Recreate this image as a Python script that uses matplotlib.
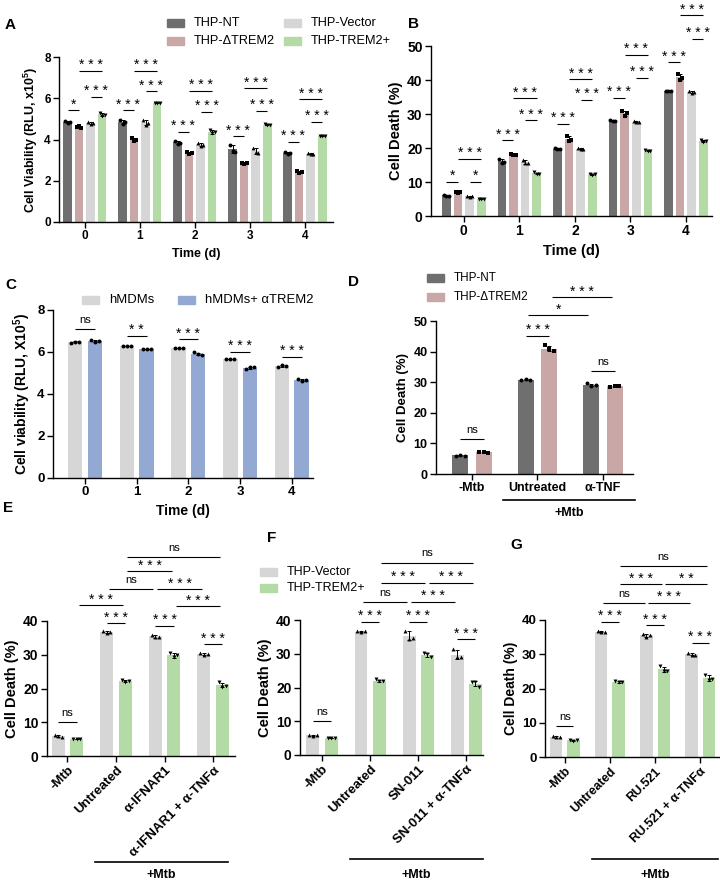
import matplotlib
matplotlib.use("Agg")
import matplotlib.pyplot as plt
from matplotlib.patches import Rectangle
from matplotlib.lines import Line2D
import numpy as np

################################################################################
# Fonts
plt.rcParams['font.family'] = ['Liberation Sans', 'DejaVu Sans']
plt.rcParams['mathtext.fontset'] = 'custom'
plt.rcParams['mathtext.rm'] = 'Liberation Sans'
plt.rcParams['mathtext.bf'] = 'Liberation Sans:bold'
plt.rcParams['axes.linewidth'] = 1.0
################################################################################

################################################################################
# Data (replicates per bar: [group][series][rep])
DAYS = ['0', '1', '2', '3', '4']

A_REPS = [[[4.90, 4.80, 4.85], [4.60, 4.65, 4.58], [4.85, 4.75, 4.80], [5.30, 5.15, 5.20]],
          [[4.95, 4.75, 4.85], [4.05, 3.95, 4.00], [4.95, 4.70, 4.80], [5.78, 5.78, 5.78]],
          [[3.95, 3.80, 3.85], [3.40, 3.30, 3.35], [3.85, 3.70, 3.75], [4.45, 4.30, 4.35]],
          [[3.75, 3.45, 3.40], [2.88, 2.82, 2.85], [3.60, 3.40, 3.35], [4.75, 4.70, 4.72]],
          [[3.38, 3.32, 3.35], [2.45, 2.40, 2.42], [3.35, 3.28, 3.30], [4.15, 4.15, 4.15]]]

B_REPS = [[[6.2, 5.9, 6.0], [7.2, 6.9, 7.0], [6.0, 5.7, 5.8], [5.1, 4.9, 5.0]],
          [[16.8, 15.7, 15.8], [18.3, 17.8, 18.0], [16.6, 15.5, 15.6], [12.8, 12.3, 12.5]],
          [[20.0, 19.7, 19.8], [23.6, 22.2, 22.5], [19.9, 19.6, 19.7], [12.5, 12.2, 12.3]],
          [[28.1, 27.9, 28.0], [31.0, 29.5, 30.2], [27.9, 27.6, 27.7], [19.3, 19.1, 19.2]],
          [[36.9, 36.7, 36.8], [41.8, 40.0, 40.6], [36.7, 36.3, 36.5], [22.3, 21.8, 22.0]]]

C_REPS = [[[6.45, 6.50, 6.50], [6.55, 6.50, 6.52]],
          [[6.28, 6.28, 6.28], [6.12, 6.12, 6.12]],
          [[6.20, 6.20, 6.20], [5.98, 5.90, 5.88]],
          [[5.68, 5.68, 5.68], [5.20, 5.28, 5.28]],
          [[5.30, 5.38, 5.33], [4.70, 4.62, 4.65]]]

D_LABELS = ['-Mtb', 'Untreated', 'α-TNF']
D_REPS = [[[6.0, 6.3, 5.9], [7.1, 7.2, 7.0]],
          [[30.8, 30.9, 30.7], [42.0, 40.8, 40.2]],
          [[29.6, 28.8, 29.0], [28.4, 28.8, 28.7]]]

E_LABELS = ['-Mtb', 'Untreated', 'α-IFNAR1', 'α-IFNAR1 + α-TNFα']
E_REPS = [[[6.2, 5.8, 5.7], [5.1, 5.0, 4.9]],
          [[36.9, 36.5, 36.8], [22.5, 22.0, 22.1]],
          [[36.0, 35.2, 35.3], [30.5, 29.2, 29.8]],
          [[30.5, 30.0, 30.1], [21.8, 20.5, 20.8]]]

F_LABELS = ['-Mtb', 'Untreated', 'SN-011', 'SN-011 + α-TNFα']
F_REPS = [[[5.9, 5.7, 5.8], [5.0, 5.1, 4.9]],
          [[36.6, 36.5, 36.6], [22.4, 21.9, 21.8]],
          [[36.8, 34.5, 34.6], [30.3, 29.8, 29.1]],
          [[31.3, 29.0, 29.0], [21.6, 21.5, 20.2]]]

G_LABELS = ['-Mtb', 'Untreated', 'RU.521', 'RU.521 + α-TNFα']
G_REPS = [[[6.0, 5.7, 5.8], [5.0, 4.8, 4.9]],
          [[36.8, 36.5, 36.6], [22.3, 21.8, 21.9]],
          [[36.0, 35.0, 35.5], [26.5, 25.0, 25.2]],
          [[30.5, 29.8, 29.9], [24.0, 22.5, 22.7]]]

# Significance: (group1, series1, group2, series2, y, text)
A_SIG = [(0, 0, 0, 1, 5.43, '*'), (0, 2, 0, 3, 6.07, '***'), (0, 1, 0, 3, 7.34, '***'),
         (1, 0, 1, 1, 5.43, '***'), (1, 2, 1, 3, 6.33, '***'), (1, 1, 1, 3, 7.34, '***'),
         (2, 0, 2, 1, 4.38, '***'), (2, 2, 2, 3, 5.35, '***'), (2, 1, 2, 3, 6.37, '***'),
         (3, 0, 3, 1, 4.17, '***'), (3, 2, 3, 3, 5.39, '***'), (3, 1, 3, 3, 6.49, '***'),
         (4, 0, 4, 1, 3.90, '***'), (4, 2, 4, 3, 4.87, '***'), (4, 1, 4, 3, 5.95, '***')]

B_SIG = [(0, 0, 0, 1, 10.1, '*'), (0, 2, 0, 3, 10.1, '*'), (0, 1, 0, 3, 16.9, '***'),
         (1, 0, 1, 1, 22.3, '***'), (1, 2, 1, 3, 28.2, '***'), (1, 1, 1, 3, 34.7, '***'),
         (2, 0, 2, 1, 27.2, '***'), (2, 2, 2, 3, 34.2, '***'), (2, 1, 2, 3, 40.2, '***'),
         (3, 0, 3, 1, 34.8, '***'), (3, 2, 3, 3, 40.7, '***'), (3, 1, 3, 3, 47.4, '***'),
         (4, 0, 4, 1, 45.2, '***'), (4, 2, 4, 3, 52.1, '***'), (4, 1, 4, 3, 59.1, '***')]

C_SIG = [(0, 0, 0, 1, 7.10, 'ns'), (1, 0, 1, 1, 6.78, '**'), (2, 0, 2, 1, 6.62, '***'),
         (3, 0, 3, 1, 6.01, '***'), (4, 0, 4, 1, 5.78, '***')]

D_SIG = [(0, 0, 0, 1, 11.3, 'ns'), (1, 0, 1, 1, 45.2, '***'), (1, 0, 2, 0, 52.0, '*'),
         (1, 1, 2, 1, 57.7, '***'), (2, 0, 2, 1, 33.7, 'ns')]

E_SIG = [(0, 0, 0, 1, 10.0, 'ns'), (1, 0, 1, 1, 39.4, '***'), (2, 0, 2, 1, 38.6, '***'),
         (3, 0, 3, 1, 33.1, '***'), (0, 1, 1, 1, 44.7, '***'), (2, 1, 3, 1, 44.4, '***'),
         (1, 0, 2, 0, 49.4, 'ns'), (2, 0, 3, 0, 49.4, '***'), (1, 1, 2, 1, 54.8, '***'),
         (1, 1, 3, 1, 59.0, 'ns')]

F_SIG = [(0, 0, 0, 1, 10.1, 'ns'), (1, 0, 1, 1, 39.5, '***'), (2, 0, 2, 1, 39.5, '***'),
         (3, 0, 3, 1, 34.4, '***'), (1, 0, 2, 0, 45.4, 'ns'), (2, 0, 3, 0, 45.4, '***'),
         (1, 1, 2, 1, 51.0, '***'), (2, 1, 3, 1, 51.0, '***'), (1, 1, 3, 1, 57.0, 'ns')]

G_SIG = [(0, 0, 0, 1, 9.0, 'ns'), (1, 0, 1, 1, 39.5, '***'), (2, 0, 2, 1, 38.5, '***'),
         (3, 0, 3, 1, 33.4, '***'), (1, 0, 2, 0, 45.0, 'ns'), (2, 0, 3, 0, 45.0, '***'),
         (1, 1, 2, 1, 50.5, '***'), (2, 1, 3, 1, 50.5, '**'), (1, 1, 3, 1, 55.8, 'ns')]
################################################################################

################################################################################
# Colors
C_NT = '#6f6f6f'
C_KO = '#c9a7a7'
C_VEC = '#d6d6d6'
C_TREM = '#b4dba6'
C_AB = '#93a9d3'
################################################################################

W, H = 720, 882
fig = plt.figure(figsize=(7.2, 8.82), dpi=100)


def px_axes(l, t, r, b):
    return fig.add_axes([l / W, 1 - b / H, (r - l) / W, (b - t) / H])


def fx(x):
    return x / W


def fy(y):
    return 1 - y / H


def draw_bars(ax, reps, offsets, width, colors, markers):
    reps = np.array(reps)
    x = np.arange(reps.shape[0])
    jit = np.array([-0.28, 0.0, 0.28]) * width
    for s in range(reps.shape[1]):
        vals = reps[:, s, :]
        mean = vals.mean(axis=1)
        sd = vals.std(axis=1, ddof=1)
        xs = x + offsets[s]
        ax.bar(xs, mean, width, color=colors[s], zorder=1)
        ax.errorbar(xs, mean, yerr=sd, fmt='none', ecolor='k', elinewidth=0.7,
                    capsize=1.5, capthick=0.7, zorder=2)
        for j in range(3):
            ax.scatter(xs + jit[j], vals[:, j], s=8, marker=markers[s],
                       color='k', linewidths=0, zorder=3, clip_on=False)


def draw_sig(ax, sigs, offsets):
    for g1, s1, g2, s2, y, txt in sigs:
        x1 = g1 + offsets[s1]
        x2 = g2 + offsets[s2]
        if g1 != g2:
            x1 += 0.04
            x2 -= 0.04
        ax.plot([x1, x2], [y, y], color='k', lw=0.8, clip_on=False,
                solid_capstyle='butt')
        if txt == 'ns':
            ax.annotate('ns', xy=((x1 + x2) / 2, y), xytext=(0, 4.5),
                        textcoords='offset points', ha='center', va='baseline',
                        fontsize=8, annotation_clip=False)
        else:
            ax.annotate(' '.join(txt), xy=((x1 + x2) / 2, y), xytext=(0, 1.0),
                        textcoords='offset points', ha='center', va='baseline',
                        fontsize=10, annotation_clip=False)


def style(ax, xlim, ylim, yticks, labels, ylabel, fs, rot=0):
    ax.set_xlim(*xlim)
    ax.set_ylim(*ylim)
    ax.set_yticks(yticks)
    ax.set_yticklabels([str(t) for t in yticks], fontweight='bold', fontsize=fs)
    ax.set_xticks(np.arange(len(labels)))
    if rot:
        ax.set_xticklabels(labels, fontweight='bold', fontsize=fs - 0.5, rotation=rot,
                           ha='right', rotation_mode='anchor')
    else:
        ax.set_xticklabels(labels, fontweight='bold', fontsize=fs)
    for s in ['top', 'right']:
        ax.spines[s].set_visible(False)
    ax.tick_params(direction='out', length=4, width=1, pad=2)
    ax.set_ylabel(ylabel, fontweight='bold', fontsize=fs + 0.5, labelpad=3)


def legend_box(x, y, color, text, fs):
    fig.add_artist(Rectangle((fx(x), fy(y + 4)), 17 / W, 8 / H, color=color,
                             transform=fig.transFigure))
    fig.text(fx(x + 27), fy(y), text, fontsize=fs, va='center', ha='left')


def mtb_bar(x1, x2, y, ty):
    fig.add_artist(Line2D([fx(x1), fx(x2)], [fy(y), fy(y)], color='k', lw=1.2,
                          transform=fig.transFigure))
    fig.text(fx((x1 + x2) / 2), fy(ty), '+Mtb', fontsize=9, fontweight='bold',
             ha='center', va='center')


################################################################################
# Panel A
OFF4 = [-0.315, -0.105, 0.105, 0.315]
COL4 = [C_NT, C_KO, C_VEC, C_TREM]
MK4 = ['o', 's', '^', 'v']
axA = px_axes(59, 57, 333, 222)
draw_bars(axA, A_REPS, OFF4, 0.155, COL4, MK4)
style(axA, (-0.47, 4.51), (0, 8), [0, 2, 4, 6, 8], DAYS,
      r'Cell Viability (RLU, x10$^{\mathbf{5}}$)', 8.5)
axA.set_xlabel('Time (d)', fontweight='bold', fontsize=9)
draw_sig(axA, A_SIG, OFF4)

# Panel B
axB = px_axes(431, 46, 712, 216)
draw_bars(axB, B_REPS, OFF4, 0.155, COL4, MK4)
style(axB, (-0.59, 4.47), (0, 50), [0, 10, 20, 30, 40, 50], DAYS, 'Cell Death (%)', 10)
axB.set_xlabel('Time (d)', fontweight='bold', fontsize=10.5)
draw_sig(axB, B_SIG, OFF4)

# Panel C
OFF2C = [-0.19, 0.19]
axC = px_axes(53, 310, 313, 478)
draw_bars(axC, C_REPS, OFF2C, 0.28, [C_VEC, C_AB], ['o', 'o'])
style(axC, (-0.62, 4.41), (0, 8), [0, 2, 4, 6, 8], DAYS,
      r'Cell viability (RLU, X10$^{\mathbf{5}}$)', 9.5)
axC.set_xlabel('Time (d)', fontweight='bold', fontsize=10)
draw_sig(axC, C_SIG, OFF2C)

# Panel D
OFF2D = [-0.18, 0.18]
axD = px_axes(436, 321, 633, 474)
draw_bars(axD, D_REPS, OFF2D, 0.245, [C_NT, C_KO], ['o', 's'])
style(axD, (-0.55, 2.46), (0, 50), [0, 10, 20, 30, 40, 50], D_LABELS, 'Cell Death (%)', 9)
draw_sig(axD, D_SIG, OFF2D)

# Panels E, F, G
OFF2 = [-0.19, 0.19]
MK2 = ['^', 'v']
axE = px_axes(47, 621, 235, 756)
draw_bars(axE, E_REPS, OFF2, 0.27, [C_VEC, C_TREM], MK2)
style(axE, (-0.42, 3.45), (0, 40), [0, 10, 20, 30, 40], E_LABELS, 'Cell Death (%)', 10, rot=45)
draw_sig(axE, E_SIG, OFF2)

axF = px_axes(300, 620, 483, 755)
draw_bars(axF, F_REPS, OFF2, 0.27, [C_VEC, C_TREM], MK2)
style(axF, (-0.46, 3.35), (0, 40), [0, 10, 20, 30, 40], F_LABELS, 'Cell Death (%)', 10, rot=45)
draw_sig(axF, F_SIG, OFF2)

axG = px_axes(545, 620, 720, 757)
draw_bars(axG, G_REPS, OFF2, 0.27, [C_VEC, C_TREM], MK2)
style(axG, (-0.44, 3.44), (0, 40), [0, 10, 20, 30, 40], G_LABELS, 'Cell Death (%)', 9.5, rot=45)
draw_sig(axG, G_SIG, OFF2)
################################################################################

################################################################################
# Legends
legend_box(167, 23, C_NT, 'THP-NT', 9.2)
legend_box(167, 41, C_KO, 'THP-ΔTREM2', 9.2)
legend_box(284, 23, C_VEC, 'THP-Vector', 9.2)
legend_box(284, 41, C_TREM, 'THP-TREM2+', 9.2)
legend_box(82, 300, C_VEC, 'hMDMs', 9.4)
legend_box(178, 300, C_AB, 'hMDMs+ αTREM2', 9.4)
legend_box(427, 278, C_NT, 'THP-NT', 8.4)
legend_box(427, 297, C_KO, 'THP-ΔTREM2', 8.4)
legend_box(260, 572, C_VEC, 'THP-Vector', 9)
legend_box(260, 588, C_TREM, 'THP-TREM2+', 9)

# +Mtb group markers
mtb_bar(503, 635, 500, 513)
mtb_bar(95, 228, 862, 875)
mtb_bar(350, 483, 859, 875)
mtb_bar(592, 718, 859, 875)

# Panel letters
for letter, x, y in [('A', 5, 25), ('B', 408, 24), ('C', 5, 285), ('D', 348, 282),
                     ('E', 3, 508), ('F', 267, 538), ('G', 510, 545)]:
    fig.text(fx(x), fy(y), letter, fontsize=11, fontweight='bold', ha='left', va='center')
################################################################################

plt.savefig('out.png', dpi=100)
plt.close()
